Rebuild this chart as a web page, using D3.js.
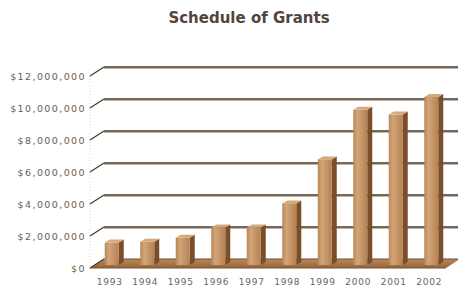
<!DOCTYPE html>
<html lang="en">
<head>
<meta charset="utf-8">
<title>Schedule of Grants</title>
<script src="https://cdn.jsdelivr.net/npm/d3@7"></script>
<style>
html,body{margin:0;padding:0;background:#fff}
#chart{width:458px;height:292px}
</style>
</head>
<body>
<div id="chart"></div>
<script>
var years=["1993","1994","1995","1996","1997","1998","1999","2000","2001","2002"];
var grants=[1400000,1450000,1700000,2350000,2350000,3850000,6600000,9700000,9400000,10500000];
var yTicks=[0,2000000,4000000,6000000,8000000,10000000,12000000];

var W=458,H=292;
var depth={dx:14,dy:-9};// back wall offset
var barDepth={dx:5,dy:-3};
var barOff={dx:5,dy:-3};// bar front face sits a bit into the floor

var svg=d3.select("#chart").append("svg")
    .attr("width",W).attr("height",H);

var defs=svg.append("defs");
var g1=defs.append("linearGradient").attr("id","barFront").attr("x1","0").attr("x2","1");
g1.append("stop").attr("offset","0").attr("stop-color","#b88656");
g1.append("stop").attr("offset","0.3").attr("stop-color","#d2a579");
g1.append("stop").attr("offset","1").attr("stop-color","#b58152");
var g2=defs.append("linearGradient").attr("id","floor").attr("x1","0").attr("x2","0").attr("y1","0").attr("y2","1");
g2.append("stop").attr("offset","0").attr("stop-color","#bb8b5b");
g2.append("stop").attr("offset","1").attr("stop-color","#93633a");

var x=d3.scaleBand().domain(years).range([96,451]);
var y=d3.scaleLinear().domain([0,12000000]).range([268,76]);
var fmt=function(v){return "$"+d3.format(",")(v);};

var left=90,right=446;

// title
svg.append("text")
    .attr("x",249).attr("y",23)
    .attr("text-anchor","middle")
    .attr("font-family","DejaVu Sans")
    .attr("font-weight","bold")
    .attr("font-size","15px")
    .attr("fill","#52453b")
    .text("Schedule of Grants");

// faint left wall edge
svg.append("line")
    .attr("x1",left).attr("x2",left)
    .attr("y1",y(12000000)).attr("y2",y(0))
    .attr("stroke","#ddd8d2").attr("stroke-dasharray","1,2");

// floor
svg.append("path")
    .attr("d","M"+left+","+y(0)+"L"+(left+depth.dx)+","+(y(0)+depth.dy)+
        "L"+(right+depth.dx)+","+(y(0)+depth.dy)+"L"+right+","+y(0)+"Z")
    .attr("fill","url(#floor)");

// gridlines: diagonal from front axis to back wall, then across
var grid=svg.append("g");
yTicks.forEach(function(t){
    var yf=y(t),yb=y(t)+depth.dy;
    if(t>0){
        grid.append("line")
            .attr("x1",left+depth.dx).attr("x2",W)
            .attr("y1",yb+1.4).attr("y2",yb+1.4)
            .attr("stroke","#c9b39b").attr("stroke-width",1.2);
        grid.append("line")
            .attr("x1",left+depth.dx).attr("x2",W)
            .attr("y1",yb).attr("y2",yb)
            .attr("stroke","#45382e").attr("stroke-width",1.3);
    } else {
        grid.append("line")
            .attr("x1",left+depth.dx).attr("x2",right+depth.dx)
            .attr("y1",yb).attr("y2",yb)
            .attr("stroke","#6a4a30").attr("stroke-width",1);
    }
    grid.append("line")
        .attr("x1",left).attr("y1",yf)
        .attr("x2",left+depth.dx).attr("y2",yb)
        .attr("stroke","#45382e").attr("stroke-width",1.2);
    grid.append("text")
        .attr("x",86).attr("y",yf+3.5)
        .attr("text-anchor","end")
        .attr("font-family","DejaVu Sans")
        .attr("font-size","9.5px")
        .attr("letter-spacing","1.4px")
        .attr("fill","#6b5d52")
        .text(fmt(t));
});

// floor front edge
svg.append("line")
    .attr("x1",left).attr("x2",right)
    .attr("y1",y(0)).attr("y2",y(0))
    .attr("stroke","#7a5230").attr("stroke-width",1);

// bars
var bars=svg.append("g").selectAll("g").data(years).enter().append("g");
bars.each(function(yr,i){
    var gb=d3.select(this);
    var cx=x(yr)+x.bandwidth()/2;
    var x0=cx-9,x1=cx+5;
    var base=y(0)+barOff.dy;
    var top=y(grants[i])+barOff.dy;
    // side
    gb.append("path")
        .attr("d","M"+x1+","+top+"L"+(x1+barDepth.dx)+","+(top+barDepth.dy)+
            "L"+(x1+barDepth.dx)+","+(base+barDepth.dy)+"L"+x1+","+base+"Z")
        .attr("fill","#7a4e2b");
    // top
    gb.append("path")
        .attr("d","M"+x0+","+top+"L"+(x0+barDepth.dx)+","+(top+barDepth.dy)+
            "L"+(x1+barDepth.dx)+","+(top+barDepth.dy)+"L"+x1+","+top+"Z")
        .attr("fill","#d3a97e");
    // front
    gb.append("rect")
        .attr("x",x0).attr("y",top)
        .attr("width",x1-x0).attr("height",base-top)
        .attr("fill","url(#barFront)");
});

// year labels
svg.append("g").selectAll("text").data(years).enter().append("text")
    .attr("x",function(d){return x(d)+x.bandwidth()/2-4;})
    .attr("y",285)
    .attr("text-anchor","middle")
    .attr("font-family","DejaVu Sans")
    .attr("font-size","9px")
    .attr("letter-spacing","0.8px")
    .attr("fill","#6b625c")
    .text(function(d){return d;});
</script>
</body>
</html>
